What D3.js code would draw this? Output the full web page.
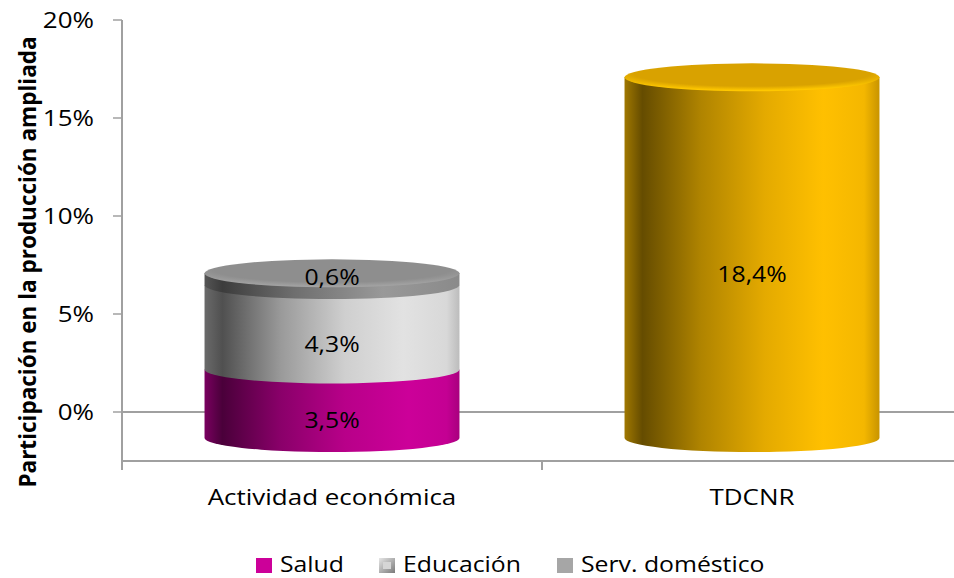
<!DOCTYPE html>
<html>
<head>
<meta charset="utf-8">
<script src="https://cdn.jsdelivr.net/npm/d3@7"></script>
<style>
body { margin: 0; background: #fff; }
text { font-family: "Open Sans", "Noto Sans", sans-serif; fill: #000; }
</style>
</head>
<body>
<div id="chart"></div>
<script>
'use strict';

var categories = ['Actividad económica', 'TDCNR'];
var seriesNames = ['Salud', 'Educación', 'Serv. doméstico'];
// one value array per series, per category (TDCNR is a single block)
var salud = [3.5, 18.4];
var educacion = [4.3, 0];
var servDomestico = [0.6, 0];
var valueLabels = [['3,5%', '4,3%', '0,6%'], ['18,4%', '', '']];
var yTicks = [0, 5, 10, 15, 20];
var yTickLabels = ['0%', '5%', '10%', '15%', '20%'];

var W = 954, H = 578;
var depth = 26;   // 3D offset of the cylinders below the value line
var ry = 14;      // ellipse half-height
var sx = 1.18;    // the original text is drawn a bit wide

var svg = d3.select('#chart').append('svg').attr('width', W).attr('height', H);
var defs = svg.append('defs');

var y = d3.scaleLinear().domain([0, 20]).range([412, 20]);
var x = d3.scaleBand().domain(categories).range([122, 962]);

// text stretched horizontally, anchored at (tx, ty)
function label(parent, tx, ty, str, anchor, size) {
    var g = parent.append('g').attr('transform', 'translate(' + tx + ',' + ty + ') scale(' + sx + ',1)');
    g.append('text').attr('dy', '0.35em').attr('text-anchor', anchor)
        .style('font-size', size + 'px').text(str);
    return g;
}

function sideGrad(id, stops) {
    var g = defs.append('linearGradient').attr('id', id)
        .attr('x1', '0%').attr('x2', '100%').attr('y1', '0%').attr('y2', '0%');
    stops.forEach(function(s) {
        g.append('stop').attr('offset', s[0]).attr('stop-color', s[1]);
    });
}
sideGrad('g-salud', [[0, '#7a0060'], [0.07, '#4a003a'], [0.3, '#8a006a'], [0.55, '#b80089'], [0.8, '#cc0099'], [0.95, '#c40093'], [1, '#a8007e']]);
sideGrad('g-edu', [[0, '#6a6a6a'], [0.07, '#505050'], [0.3, '#9a9a9a'], [0.55, '#cfcfcf'], [0.78, '#e2e2e2'], [0.95, '#d8d8d8'], [1, '#bcbcbc']]);
sideGrad('g-serv', [[0, '#555'], [0.07, '#3c3c3c'], [0.35, '#6e6e6e'], [0.7, '#999'], [1, '#8a8a8a']]);
sideGrad('g-gold', [[0, '#a07800'], [0.07, '#654c00'], [0.3, '#b08400'], [0.55, '#e4aa00'], [0.78, '#ffc000'], [0.94, '#f4b700'], [1, '#c89400']]);

function capGrad(id, inner, rim) {
    var g = defs.append('radialGradient').attr('id', id)
        .attr('cx', '50%').attr('cy', '35%').attr('r', '62%');
    g.append('stop').attr('offset', 0.75).attr('stop-color', inner);
    g.append('stop').attr('offset', 1).attr('stop-color', rim);
}
capGrad('c-serv', '#8e8e8e', '#a2a2a2');
capGrad('c-gold', '#d9a200', '#ffc800');

var fills = [['url(#g-salud)', 'url(#g-edu)', 'url(#g-serv)'], ['url(#g-gold)', '', '']];
var caps = ['url(#c-serv)', 'url(#c-gold)'];

// axis + floor
var axisColor = '#a0a0a0';
svg.append('g').selectAll('line').data(yTicks).enter().append('line')
    .attr('x1', 113).attr('x2', 122)
    .attr('y1', function(d) { return y(d); }).attr('y2', function(d) { return y(d); })
    .attr('stroke', axisColor).attr('stroke-width', 1.5);
svg.append('line').attr('x1', 122).attr('x2', W).attr('y1', y(0)).attr('y2', y(0))
    .attr('stroke', axisColor).attr('stroke-width', 2);
svg.append('line').attr('x1', 122).attr('x2', 122).attr('y1', y(20)).attr('y2', 462)
    .attr('stroke', axisColor).attr('stroke-width', 2);
svg.append('line').attr('x1', 122).attr('x2', W).attr('y1', 461).attr('y2', 461)
    .attr('stroke', axisColor).attr('stroke-width', 2);
svg.append('line').attr('x1', 542).attr('x2', 542).attr('y1', 461).attr('y2', 470)
    .attr('stroke', axisColor).attr('stroke-width', 2);
svg.append('line').attr('x1', 122).attr('x2', 122).attr('y1', 461).attr('y2', 470)
    .attr('stroke', axisColor).attr('stroke-width', 2);

var tickG = svg.append('g');
yTicks.forEach(function(d, i) {
    label(tickG, 94, y(d), yTickLabels[i], 'end', 22);
});

svg.append('text')
    .attr('transform', 'translate(36,262) rotate(-90)')
    .attr('text-anchor', 'middle').style('font-size', '22.5px').style('font-weight', 'bold')
    .text('Participación en la producción ampliada');

var catG = svg.append('g');
categories.forEach(function(d) {
    label(catG, x(d) + x.bandwidth() / 2, 497, d, 'middle', 22);
});

// cylinders
var series = [salud, educacion, servDomestico];
var cylW = x.bandwidth() * 0.607;

categories.forEach(function(cat, ci) {
    var cx = x(cat) + x.bandwidth() / 2;
    var rx = cylW / 2;
    var g = svg.append('g');
    var start = 0;
    var segs = [];
    series.forEach(function(s, si) {
        var v = s[ci];
        if (v > 0) {
            segs.push({si: si, from: start, to: start + v});
            start += v;
        }
    });
    segs.forEach(function(sg) {
        var yb = y(sg.from) + depth, yt = y(sg.to) + depth;
        var p = 'M' + (cx - rx) + ',' + yt + ' L' + (cx - rx) + ',' + yb +
            ' A' + rx + ',' + ry + ' 0 0 0 ' + (cx + rx) + ',' + yb +
            ' L' + (cx + rx) + ',' + yt + ' Z';
        g.append('path').attr('d', p).attr('fill', fills[ci][sg.si]);
    });
    var top = y(start) + depth;
    g.append('ellipse').attr('cx', cx).attr('cy', top).attr('rx', rx).attr('ry', ry)
        .attr('fill', caps[ci]);

    segs.forEach(function(sg) {
        var yb = y(sg.from) + depth + ry, yt = y(sg.to) + depth + ry;
        // thin segment: the label sits on the cap
        var ly = (yb - yt) < 24 ? y(sg.to) + depth + 4 : (yb + yt) / 2 + 3;
        label(g, cx, ly, valueLabels[ci][sg.si], 'middle', 21);
    });
});

// legend
var legendX = [256, 379, 557];
var legendFill = ['#cc0099', 'url(#leg-edu)', '#a6a6a6'];
var lg = defs.append('linearGradient').attr('id', 'leg-edu').attr('x1', 0).attr('x2', 1).attr('y1', 0).attr('y2', 1);
lg.append('stop').attr('offset', 0).attr('stop-color', '#e6e6e6');
lg.append('stop').attr('offset', 1).attr('stop-color', '#7a7a7a');
var leg = svg.append('g').selectAll('g').data(seriesNames).enter().append('g')
    .attr('transform', function(d, i) { return 'translate(' + legendX[i] + ',558)'; });
leg.append('rect').attr('width', 16).attr('height', 15).attr('fill', function(d, i) { return legendFill[i]; });
leg.filter(function(d, i) { return i === 1; }).append('rect')
    .attr('x', 4).attr('y', 4).attr('width', 8).attr('height', 7).attr('fill', '#d6d6d6');
leg.each(function(d) {
    label(d3.select(this), 24, 6.5, d, 'start', 21);
});
</script>
</body>
</html>
